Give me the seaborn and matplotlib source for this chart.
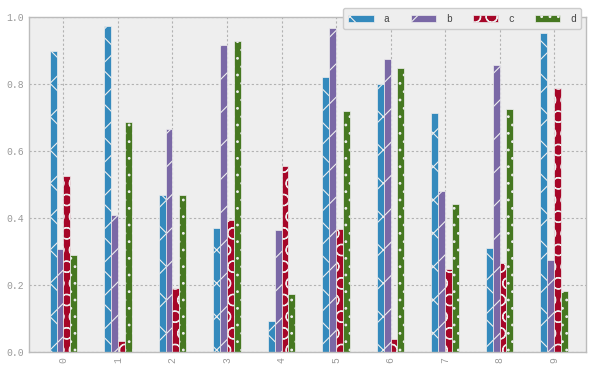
import pandas as pd
import numpy as np
import seaborn as sns
import matplotlib.pyplot as plt

# values
groups = list(range(10))
a_vals = [0.898, 0.974, 0.468, 0.369, 0.094, 0.821, 0.800, 0.713, 0.310, 0.951]
b_vals = [0.307, 0.410, 0.665, 0.917, 0.364, 0.968, 0.875, 0.480, 0.857, 0.276]
c_vals = [0.525, 0.034, 0.190, 0.395, 0.556, 0.366, 0.039, 0.248, 0.267, 0.789]
d_vals = [0.290, 0.687, 0.468, 0.929, 0.172, 0.719, 0.848, 0.441, 0.726, 0.183]
series_names = ['a', 'b', 'c', 'd']
series_colors = ['#348ABD', '#7A68A6', '#A60628', '#467821']
hatches = ['x', '/', 'O', '..']
y_ticks = [0.0, 0.2, 0.4, 0.6, 0.8, 1.0]


def build_frame():
    df = pd.DataFrame({'a': a_vals, 'b': b_vals, 'c': c_vals, 'd': d_vals}, index=groups)
    df.index.name = 'group'
    long = df.reset_index().melt(id_vars='group', var_name='series', value_name='value')
    return long


def main():
    sns.set_style('darkgrid', {
        'axes.facecolor': '#eeeeee',
        'axes.edgecolor': '#bcbcbc',
        'grid.color': '#b2b2b2',
        'grid.linestyle': (0, (2, 2)),
    })
    plt.rcParams['font.family'] = ['Liberation Mono', 'DejaVu Sans Mono']
    plt.rcParams['hatch.linewidth'] = 0.8

    long = build_frame()

    fig = plt.figure(figsize=(5.94, 3.69), dpi=100)
    ax = fig.add_axes([0.049, 0.046, 0.938, 0.908])

    sns.barplot(data=long, x='group', y='value', hue='series',
                hue_order=series_names, palette=series_colors,
                width=0.5, saturation=1, edgecolor='#eeeeee', linewidth=0.5,
                legend=False, ax=ax)

    for container, hatch, name in zip(ax.containers, hatches, series_names):
        container.set_label(name)
        for bar in container:
            bar.set_hatch(hatch)

    ax.set_xlim(-0.63, 9.59)
    ax.set_ylim(0, 1.0)
    ax.set_yticks(y_ticks)
    ax.set_yticklabels([f'{t:.1f}' for t in y_ticks])
    ax.set_xlabel('')
    ax.set_ylabel('')
    ax.grid(True, linewidth=0.8)
    for spine in ax.spines.values():
        spine.set_visible(True)
        spine.set_color('#bcbcbc')
        spine.set_linewidth(1.0)
    ax.tick_params(axis='both', labelsize=7, colors='#999999', length=0, pad=4)
    plt.setp(ax.get_xticklabels(), rotation=90)

    leg = ax.legend(handles=list(ax.containers), labels=series_names, ncol=4,
                    loc='upper right', bbox_to_anchor=(1.0, 1.04),
                    fontsize=7, handlelength=2.6, handleheight=0.8,
                    handletextpad=1.0, columnspacing=2.2,
                    frameon=True, fancybox=True, borderpad=0.55)
    leg.get_frame().set_facecolor('#eeeeee')
    leg.get_frame().set_edgecolor('#cccccc')
    leg.get_frame().set_alpha(1.0)
    for text in leg.get_texts():
        text.set_color('#444444')

    fig.savefig('out.png', dpi=100, facecolor='white')


if __name__ == '__main__':
    main()
